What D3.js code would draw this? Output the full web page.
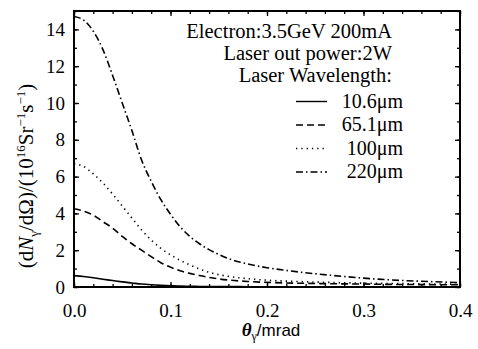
<!DOCTYPE html>
<html><head><meta charset="utf-8">
<script src="https://cdn.jsdelivr.net/npm/d3@7/dist/d3.min.js"></script>
<style>
body{margin:0;background:#fff;}
svg{display:block;font-family:"Liberation Serif","Times New Roman",serif;}
svg text{font-family:"Liberation Serif","Times New Roman",serif;}
svg text.sans{font-family:"Liberation Sans",Arial,sans-serif;}
</style></head><body>
<svg id="chart" width="478" height="349"></svg>
<script>
// 横坐标 θγ (mrad)
const theta=[0,0.01,0.02,0.03,0.04,0.05,0.06,0.07,0.08,0.09,0.10,0.11,0.12,0.13,0.14,0.15,0.16,0.18,0.20,0.22,0.25,0.28,0.30,0.33,0.36,0.40];
// 各波长的 dN/dΩ (10^16 Sr^-1 s^-1)
const y106=[0.62,0.57,0.50,0.42,0.35,0.28,0.22,0.16,0.12,0.09,0.07,0.05,0.04,0.03,0.025,0.02,0.02,0.015,0.01,0.01,0.01,0.005,0.005,0.0,0.0,0.0];
const y651=[4.25,4.12,3.90,3.55,3.20,2.75,2.35,2.00,1.65,1.32,1.08,0.88,0.74,0.62,0.52,0.44,0.38,0.30,0.25,0.22,0.19,0.17,0.16,0.14,0.13,0.12];
const y100=[6.70,6.55,6.15,5.65,5.05,4.40,3.75,3.10,2.55,2.10,1.75,1.45,1.20,0.98,0.80,0.67,0.58,0.45,0.37,0.32,0.27,0.23,0.21,0.19,0.17,0.15];
const y220=[14.7,14.5,13.9,12.9,11.5,10.0,8.5,6.9,5.75,4.75,3.95,3.27,2.75,2.35,2.03,1.77,1.55,1.25,1.05,0.90,0.72,0.57,0.48,0.38,0.31,0.24];
const legendNames=["10.6μm","65.1μm","100μm","220μm"];
const infoLines=["Electron:3.5GeV 200mA","Laser out power:2W","Laser Wavelength:"];
const xMajor=[0,0.1,0.2,0.3,0.4];
const yMajor=[0,2,4,6,8,10,12,14];

const svg=d3.select("#chart");
const L=74,R=460,T=11,B=287;
const x=d3.scaleLinear().domain([0,0.4]).range([L,R]);
const y=d3.scaleLinear().domain([0,15]).range([B,T]);

const series=[
  {vals:y106,dash:null},
  {vals:y651,dash:"7,4"},
  {vals:y100,dash:"1.3,4"},
  {vals:y220,dash:"7,3,1.5,3"}
];

// 小刻度
const xMinor=d3.range(0,0.4001,0.02);
const yMinor=d3.range(0,15.001,1);

function drawAxis(axis,tx,ty,cls){
  const g=svg.append("g").attr("class",cls).attr("transform",`translate(${tx},${ty})`).call(axis)
    .attr("font-family",null).attr("font-size",19);
  g.select(".domain").remove();
  g.selectAll("line").attr("stroke","#000").attr("stroke-width",1.3);
  g.selectAll("text").attr("fill","#000");
  return g;
}
drawAxis(d3.axisBottom(x).tickValues(xMinor).tickSize(-3).tickFormat(""),0,B,"xminor");
drawAxis(d3.axisTop(x).tickValues(xMinor).tickSize(-3).tickFormat(""),0,T,"xminorTop");
drawAxis(d3.axisTop(x).tickValues(xMajor).tickSize(-5).tickFormat(""),0,T,"xmajorTop");
drawAxis(d3.axisBottom(x).tickValues(xMajor).tickSize(-5).tickPadding(17).tickFormat(d3.format(".1f")),0,B,"xmajor");
drawAxis(d3.axisLeft(y).tickValues(yMinor).tickSize(-3).tickFormat(""),L,0,"yminor");
drawAxis(d3.axisRight(y).tickValues(yMinor).tickSize(-3).tickFormat(""),R,0,"yminorR");
drawAxis(d3.axisRight(y).tickValues(yMajor).tickSize(-5).tickFormat(""),R,0,"ymajorR");
drawAxis(d3.axisLeft(y).tickValues(yMajor).tickSize(-5).tickPadding(9).tickFormat(d3.format("d")),L,0,"ymajor");

// 边框
svg.append("rect").attr("x",L).attr("y",T).attr("width",R-L).attr("height",B-T)
  .attr("fill","none").attr("stroke","#000").attr("stroke-width",2);

// 曲线
const line=d3.line().x((d,i)=>x(theta[i])).y(d=>y(d)).curve(d3.curveMonotoneX);
series.forEach(s=>{
  svg.append("path").datum(s.vals).attr("d",line)
    .attr("fill","none").attr("stroke","#000").attr("stroke-width",1.6)
    .attr("stroke-dasharray",s.dash);
});

// 说明文字
infoLines.forEach((t,i)=>{
  svg.append("text").attr("x",392).attr("y",38+i*21.8).attr("text-anchor","end")
    .attr("font-size",20.5).text(t);
});

// 图例
legendNames.forEach((name,i)=>{
  const yy=107.5+i*23.5;
  svg.append("line").attr("x1",296).attr("x2",327).attr("y1",yy-6).attr("y2",yy-6)
    .attr("stroke","#000").attr("stroke-width",1.4).attr("stroke-dasharray",series[i].dash);
  svg.append("text").attr("x",403).attr("y",yy).attr("text-anchor","end")
    .attr("font-size",20).text(name);
});

// 坐标轴标题
const xl=svg.append("text").attr("x",271).attr("y",336).attr("text-anchor","middle").attr("font-size",19);
xl.append("tspan").attr("font-style","italic").attr("font-weight","bold").text("θ");
xl.append("tspan").attr("font-size",12).attr("dy",4).text("γ");
xl.append("tspan").attr("dy",-4).style("font-family","'Liberation Sans',Arial,sans-serif").attr("font-size",17).text("/mrad");

const yl=svg.append("text").attr("transform","translate(33,176) rotate(-90)")
  .attr("text-anchor","middle").attr("font-size",21);
yl.append("tspan").text("(d");
yl.append("tspan").attr("font-style","italic").text("N");
yl.append("tspan").attr("font-size",13).attr("dy",5).text("γ");
yl.append("tspan").attr("dy",-5).text("/dΩ)/(10");
yl.append("tspan").attr("font-size",13).attr("dy",-8).text("16");
yl.append("tspan").attr("dy",8).text("Sr");
yl.append("tspan").attr("font-size",13).attr("dy",-8).text("−1");
yl.append("tspan").attr("dy",8).text("s");
yl.append("tspan").attr("font-size",13).attr("dy",-8).text("−1");
yl.append("tspan").attr("dy",8).text(")");
</script>
</body></html>
